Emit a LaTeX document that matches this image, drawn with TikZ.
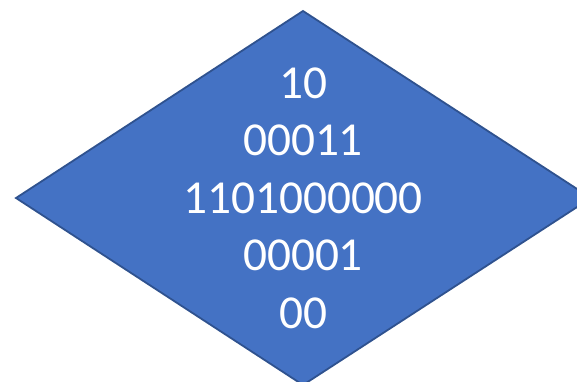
\documentclass[tikz,border=0pt]{standalone}
\usepackage{fontspec}
\setmainfont{Carlito}
\definecolor{dfill}{HTML}{4472C4}
\definecolor{dline}{HTML}{2F528F}
\begin{document}
\begin{tikzpicture}[x=1pt,y=-1pt,
  lbl/.style={anchor=base,text=white,inner sep=0pt,font=\fontsize{47.3}{56}\selectfont}]
\useasboundingbox (0,0) rectangle (577,381);
\clip (0,0) rectangle (577,381);
\fill[white] (0,0) rectangle (577,381);
\draw[fill=dfill,draw=dline,line width=1.8pt,line join=miter] (16,198) -- (303,11) -- (591,198) -- (303,385) -- cycle;
\node[lbl] (l1) at (303,98) {10};
\node[lbl] (l2) at (303,155.5) {00011};
\node[lbl] (l3) at (303,213) {1101000000};
\node[lbl] (l4) at (303,270.5) {00001};
\node[lbl] (l5) at (303,328) {00};
\end{tikzpicture}
\end{document}
